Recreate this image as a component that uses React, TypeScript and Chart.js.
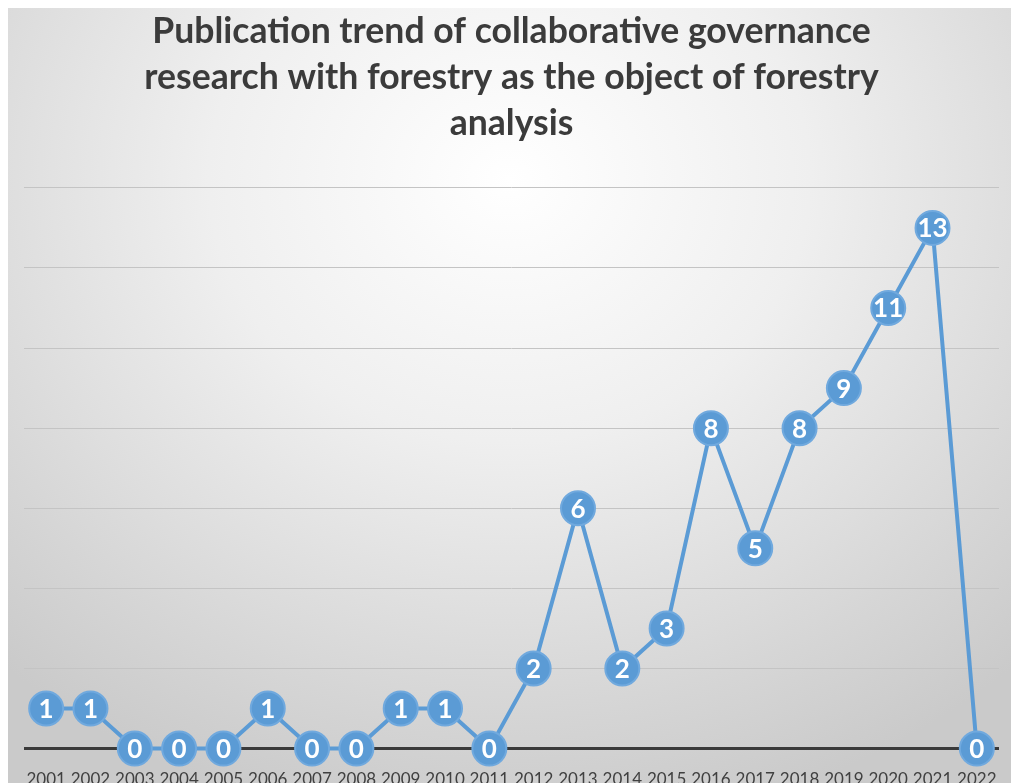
import React, { useEffect, useRef } from "react";
import { Chart, registerables } from "chart.js";

Chart.register(...registerables);

const years = ["2001","2002","2003","2004","2005","2006","2007","2008","2009","2010","2011","2012","2013","2014","2015","2016","2017","2018","2019","2020","2021","2022"];
const publications = [1,1,0,0,0,1,0,0,1,1,0,2,6,2,3,8,5,8,9,11,13,0];
const titleLines = [
  "Publication trend of collaborative governance",
  "research with forestry as the object of forestry",
  "analysis",
];

const labelPlugin = {
  id: "pointLabels",
  afterDatasetsDraw(chart: any) {
    const ctx = chart.ctx;
    const meta = chart.getDatasetMeta(0);
    ctx.save();
    ctx.fillStyle = "#ffffff";
    ctx.font = "bold 26px Lato, 'Open Sans', sans-serif";
    ctx.textAlign = "center";
    ctx.textBaseline = "middle";
    meta.data.forEach((pt: any, i: number) => {
      ctx.fillText(String(publications[i]), pt.x, pt.y + 1);
    });
    ctx.restore();
  },
};

export default function App() {
  const ref = useRef<HTMLCanvasElement | null>(null);
  useEffect(() => {
    if (!ref.current) return;
    const chart = new Chart(ref.current, {
      type: "line",
      data: {
        labels: years,
        datasets: [
          {
            data: publications,
            borderColor: "#5b9bd5",
            borderWidth: 4,
            pointRadius: 17,
            pointBackgroundColor: "#5b9bd5",
            pointBorderColor: "#70a9de",
            pointBorderWidth: 2,
            tension: 0,
            clip: false as any,
          },
        ],
      },
      options: {
        animation: false,
        responsive: false,
        layout: { autoPadding: false, padding: { left: 16, right: 12, top: 0, bottom: 0 } },
        plugins: {
          legend: { display: false },
          tooltip: { enabled: false },
          title: {
            display: true,
            text: titleLines,
            color: "#3b3b3b",
            font: { family: "Lato, 'Open Sans', sans-serif", size: 35.6, weight: "bold", lineHeight: 1.3 },
            padding: { top: 0, bottom: 41 },
          },
        },
        scales: {
          x: {
            offset: true,
            grid: { display: false, drawTicks: true, tickLength: 18 },
            border: { display: false },
            ticks: {
              color: "#404040",
              font: { family: "Lato, 'Open Sans', sans-serif", size: 17 },
              padding: 3,
              maxRotation: 0,
              autoSkip: false,
            },
          },
          y: {
            min: 0,
            max: 14,
            ticks: { display: false, stepSize: 2 },
            border: { display: false },
            grid: {
              drawTicks: false,
              color: (c: any) => (c.tick && c.tick.value === 0 ? "#3a3a3a" : "#c4c4c4"),
              lineWidth: (c: any) => (c.tick && c.tick.value === 0 ? 3 : 1),
            },
          },
        },
      },
      plugins: [labelPlugin],
    });
    return () => chart.destroy();
  }, []);
  return (
    <div
      style={{
        position: "fixed",
        left: 8,
        top: 8,
        width: 1003,
        height: 775,
        overflow: "hidden",
        background:
          "radial-gradient(ellipse 75% 85% at 50% 22%, #ffffff 0%, #efefef 40%, #d6d6d6 80%, #cacaca 100%)",
      }}
    >
      <canvas ref={ref} width={1003} height={785} style={{ display: "block" }} />
    </div>
  );
}
